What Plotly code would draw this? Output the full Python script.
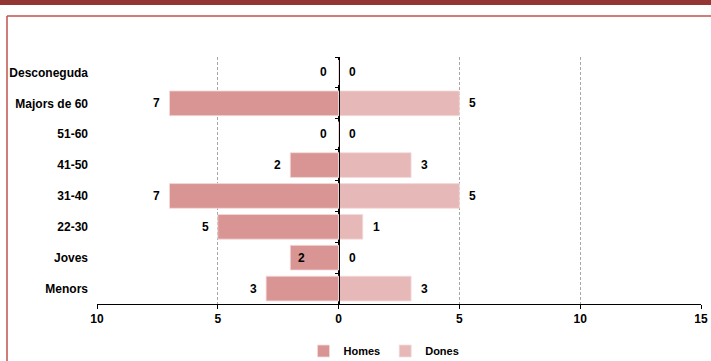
import plotly.graph_objects as go

categories = ["Desconeguda", "Majors de 60", "51-60", "41-50", "31-40", "22-30", "Joves", "Menors"]
homes = [0, 7, 0, 2, 7, 5, 2, 3]
dones = [0, 5, 0, 3, 5, 1, 0, 3]
tick_vals = [-10, -5, 0, 5, 10, 15]
tick_text = ["10", "5", "0", "5", "10", "15"]
homes_inside = ["Joves"]

C_HOMES = "#D99594"
C_DONES = "#E6B9B8"
FONT = "Liberation Sans"

W, H = 711, 361
L, R, T, B = 97, 10, 57, 57
pw, ph = W - L - R, H - T - B

def px(x):
    return (x - L) / pw

def py(y):
    return (H - B - y) / ph

BF = dict(family=FONT, size=12, color="black", weight="bold")

fig = go.Figure()
fig.add_trace(go.Bar(
    y=categories, x=[-v for v in homes], orientation="h", name="Homes",
    marker=dict(color=C_HOMES, line=dict(color="#F2DCDB", width=0.8)),
    width=0.8, hoverinfo="skip"))
fig.add_trace(go.Bar(
    y=categories, x=dones, orientation="h", name="Dones", yaxis="y2",
    marker=dict(color=C_DONES, line=dict(color="#F2DCDB", width=0.8)),
    width=0.8, hoverinfo="skip"))

ann = []
for c, v in zip(categories, homes):
    if c in homes_inside:
        ann.append(dict(x=-v, y=c, text=str(v), showarrow=False, xanchor="left", xshift=6))
    else:
        ann.append(dict(x=-v, y=c, text=str(v), showarrow=False, xanchor="right",
                        xshift=-7 if v else -10))
for c, v in zip(categories, dones):
    ann.append(dict(x=v, y=c, text=str(v), showarrow=False, xanchor="left", xshift=8))

shapes = [
    dict(type="rect", xref="paper", yref="paper", x0=px(0), x1=px(W), y0=py(5), y1=py(-2),
         fillcolor="#943634", line=dict(width=0), layer="above"),
    dict(type="line", xref="paper", yref="paper", x0=px(7), x1=px(W + 2), y0=py(16), y1=py(16),
         line=dict(color="#C0504D", width=1.5)),
    dict(type="line", xref="paper", yref="paper", x0=px(7), x1=px(7), y0=py(16), y1=py(H + 2),
         line=dict(color="#C0504D", width=1.5)),
]

rng = [len(categories) - 0.5, -0.5]
fig.update_layout(
    width=W, height=H,
    margin=dict(l=L, r=R, t=T, b=B, autoexpand=False),
    paper_bgcolor="white", plot_bgcolor="white",
    barmode="overlay",
    font=BF,
    showlegend=True,
    legend=dict(orientation="h", x=px(384), y=py(351), xanchor="center", yanchor="middle",
                font=dict(family=FONT, size=11, color="black", weight="bold"),
                itemwidth=30, traceorder="normal", bgcolor="rgba(0,0,0,0)"),
    xaxis=dict(range=[-10, 15], tickvals=tick_vals, ticktext=tick_text,
               showgrid=True, gridcolor="#A6A6A6", griddash="3px,2px", gridwidth=1,
               zeroline=True, zerolinecolor="black", zerolinewidth=1,
               showline=True, linecolor="black", linewidth=1,
               ticks="outside", ticklen=4, tickcolor="black",
               tickfont=BF, fixedrange=True, automargin=False),
    yaxis=dict(type="category", categoryorder="array", categoryarray=categories, range=rng,
               showgrid=False, zeroline=False, showline=False, ticks="",
               tickfont=BF, automargin=False, ticklabelstandoff=8),
    yaxis2=dict(type="category", categoryorder="array", categoryarray=categories, range=rng,
                overlaying="y", anchor="free", position=px(339), side="left",
                showgrid=False, zeroline=False, showline=True, linecolor="black", linewidth=1,
                ticks="outside", ticklen=4, tickcolor="black", tickson="boundaries",
                showticklabels=False, automargin=False),
    annotations=[dict(a, font=BF) for a in ann],
    shapes=shapes,
)

fig.write_html("out.html", config={"displayModeBar": False},
               post_script="document.body.style.margin='0';document.body.style.overflow='hidden';")
